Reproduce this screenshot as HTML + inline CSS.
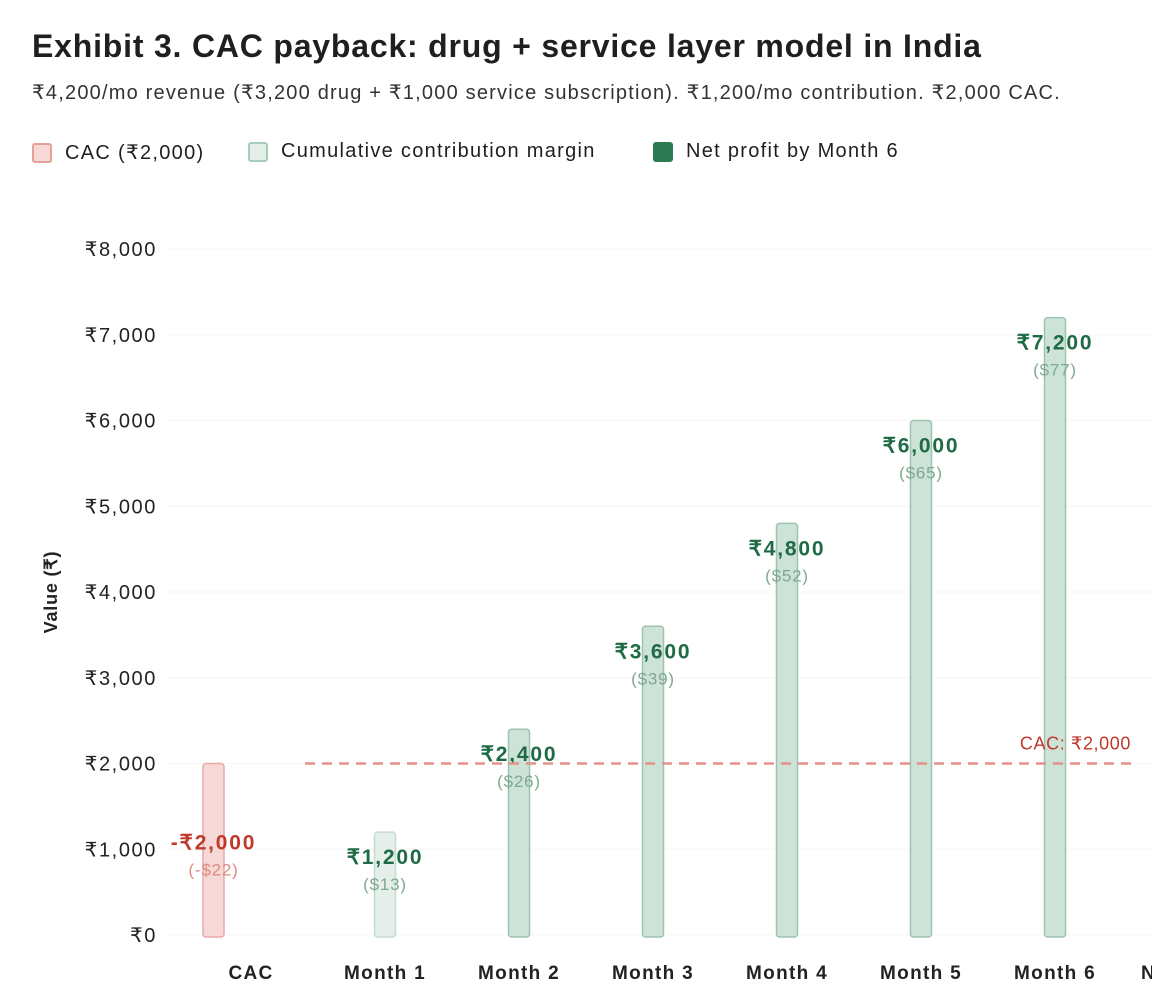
<!DOCTYPE html>
<html><head><meta charset="utf-8"><style>
body{margin:0;background:#fff;font-family:"Liberation Sans","Noto Sans CJK SC",sans-serif;color:#1f1f1f;width:1152px;height:1004px;overflow:hidden;position:relative}
h1{position:absolute;left:32px;top:28px;margin:0;font-size:32px;font-weight:bold;letter-spacing:0.8px;white-space:nowrap}
.sub{position:absolute;left:32px;top:80px;font-size:20px;color:#333;letter-spacing:1.2px;white-space:nowrap}
.legend{position:absolute;top:140px;left:0;font-size:20px;letter-spacing:1.3px}
.li{position:absolute;display:flex;align-items:center;white-space:nowrap}
.sw{width:20px;height:20px;border-radius:3px;margin-right:13px;box-sizing:border-box}
</style></head><body>
<h1>Exhibit 3. CAC payback: drug + service layer model in India</h1>
<div class="sub">₹4,200/mo revenue (₹3,200 drug + ₹1,000 service subscription). ₹1,200/mo contribution. ₹2,000 CAC.</div>
<div class="legend">
<div class="li" style="left:32px"><div class="sw" style="background:#f6d8d6;border:2px solid #e6a09a"></div>CAC (₹2,000)</div>
<div class="li" style="left:248px"><div class="sw" style="background:#e2eee7;border:2px solid #a9cbb8"></div>Cumulative contribution margin</div>
<div class="li" style="left:653px"><div class="sw" style="background:#2a7a52;border:2px solid #2a7a52"></div>Net profit by Month 6</div>
</div>
<svg id="chart" width="1152" height="1004" style="position:absolute;left:0;top:0"></svg>
<script>
const categories=["CAC","Month 1","Month 2","Month 3","Month 4","Month 5","Month 6"];
const values=[2000,1200,2400,3600,4800,6000,7200];
const usd=["-$22","$13","$26","$39","$52","$65","$77"];
const yTicks=[0,1000,2000,3000,4000,5000,6000,7000,8000];
const cacLine=2000;
const NS="http://www.w3.org/2000/svg";
const svg=document.getElementById('chart');
function y(v){return 935-v*0.08575;}
function xc(i){return 385+(i-1)*134;}
function mk(t,a,txt){const e=document.createElementNS(NS,t);for(const k in a)e.setAttribute(k,a[k]);if(txt!==undefined)e.textContent=txt;svg.appendChild(e);return e;}
yTicks.forEach(v=>{
 const g=mk('line',{x1:168,x2:1152,y1:y(v),y2:y(v),stroke:'#f6f6f6','stroke-width':1});
 
 
 const t=mk('text',{x:157,y:y(v)+7,'text-anchor':'end','font-size':20,'letter-spacing':1.6,fill:'#222'},'₹'+v.toLocaleString('en-US'));
 
 
});
const yt=mk('text',{x:57,y:592,'text-anchor':'middle','font-size':18,'font-weight':'bold','letter-spacing':0.8,fill:'#222',transform:'rotate(-90 57 592)'},'Value (₹)');


categories.forEach((c,i)=>{
 const cx=i===0?213.5:xc(i);
 const lx=i===0?251:xc(i);
 const fill=i===0?'#f6d8d6':(i===1?'#e3efe8':'#cde3d7');
 const st=i===0?'#e8aaa5':(i===1?'#c4dccf':'#9ec3ae');
 const b=mk('rect',{x:cx-10.5,y:y(values[i]),width:21,height:935-y(values[i])+2,rx:3,fill:fill,stroke:st,'stroke-width':1.5});
 
 
 const xl=mk('text',{x:lx,y:979,'text-anchor':'middle','font-size':19,'font-weight':'bold','letter-spacing':1.3,fill:'#222'},c);
 
 
 const ly=i===0?y(1000):y(values[i])+32;
 const vl=mk('text',{x:cx,y:ly,'text-anchor':'middle','font-size':21,'font-weight':'bold','letter-spacing':1.8,fill:i===0?'#c0392b':'#1e6b45'},(i===0?'-':'')+'₹'+values[i].toLocaleString('en-US'));
 
 
 const ul=mk('text',{x:cx,y:ly+26,'text-anchor':'middle','font-size':17,'letter-spacing':0.8,fill:i===0?'#e08a83':'#7fa891'},'('+usd[i]+')');
 
 
});
const xm=mk('text',{x:1141,y:979,'font-size':19,'font-weight':'bold',fill:'#222'},'N');


const dl=mk('line',{x1:305,x2:1138,y1:y(cacLine),y2:y(cacLine),stroke:'#e3928a','stroke-width':2.5,'stroke-dasharray':'10,7'});


const dt=mk('text',{x:1131,y:y(cacLine)-14,'text-anchor':'end','font-size':18,'letter-spacing':0.6,fill:'#c0392b'},'CAC: ₹2,000');


</script>
</body></html>
